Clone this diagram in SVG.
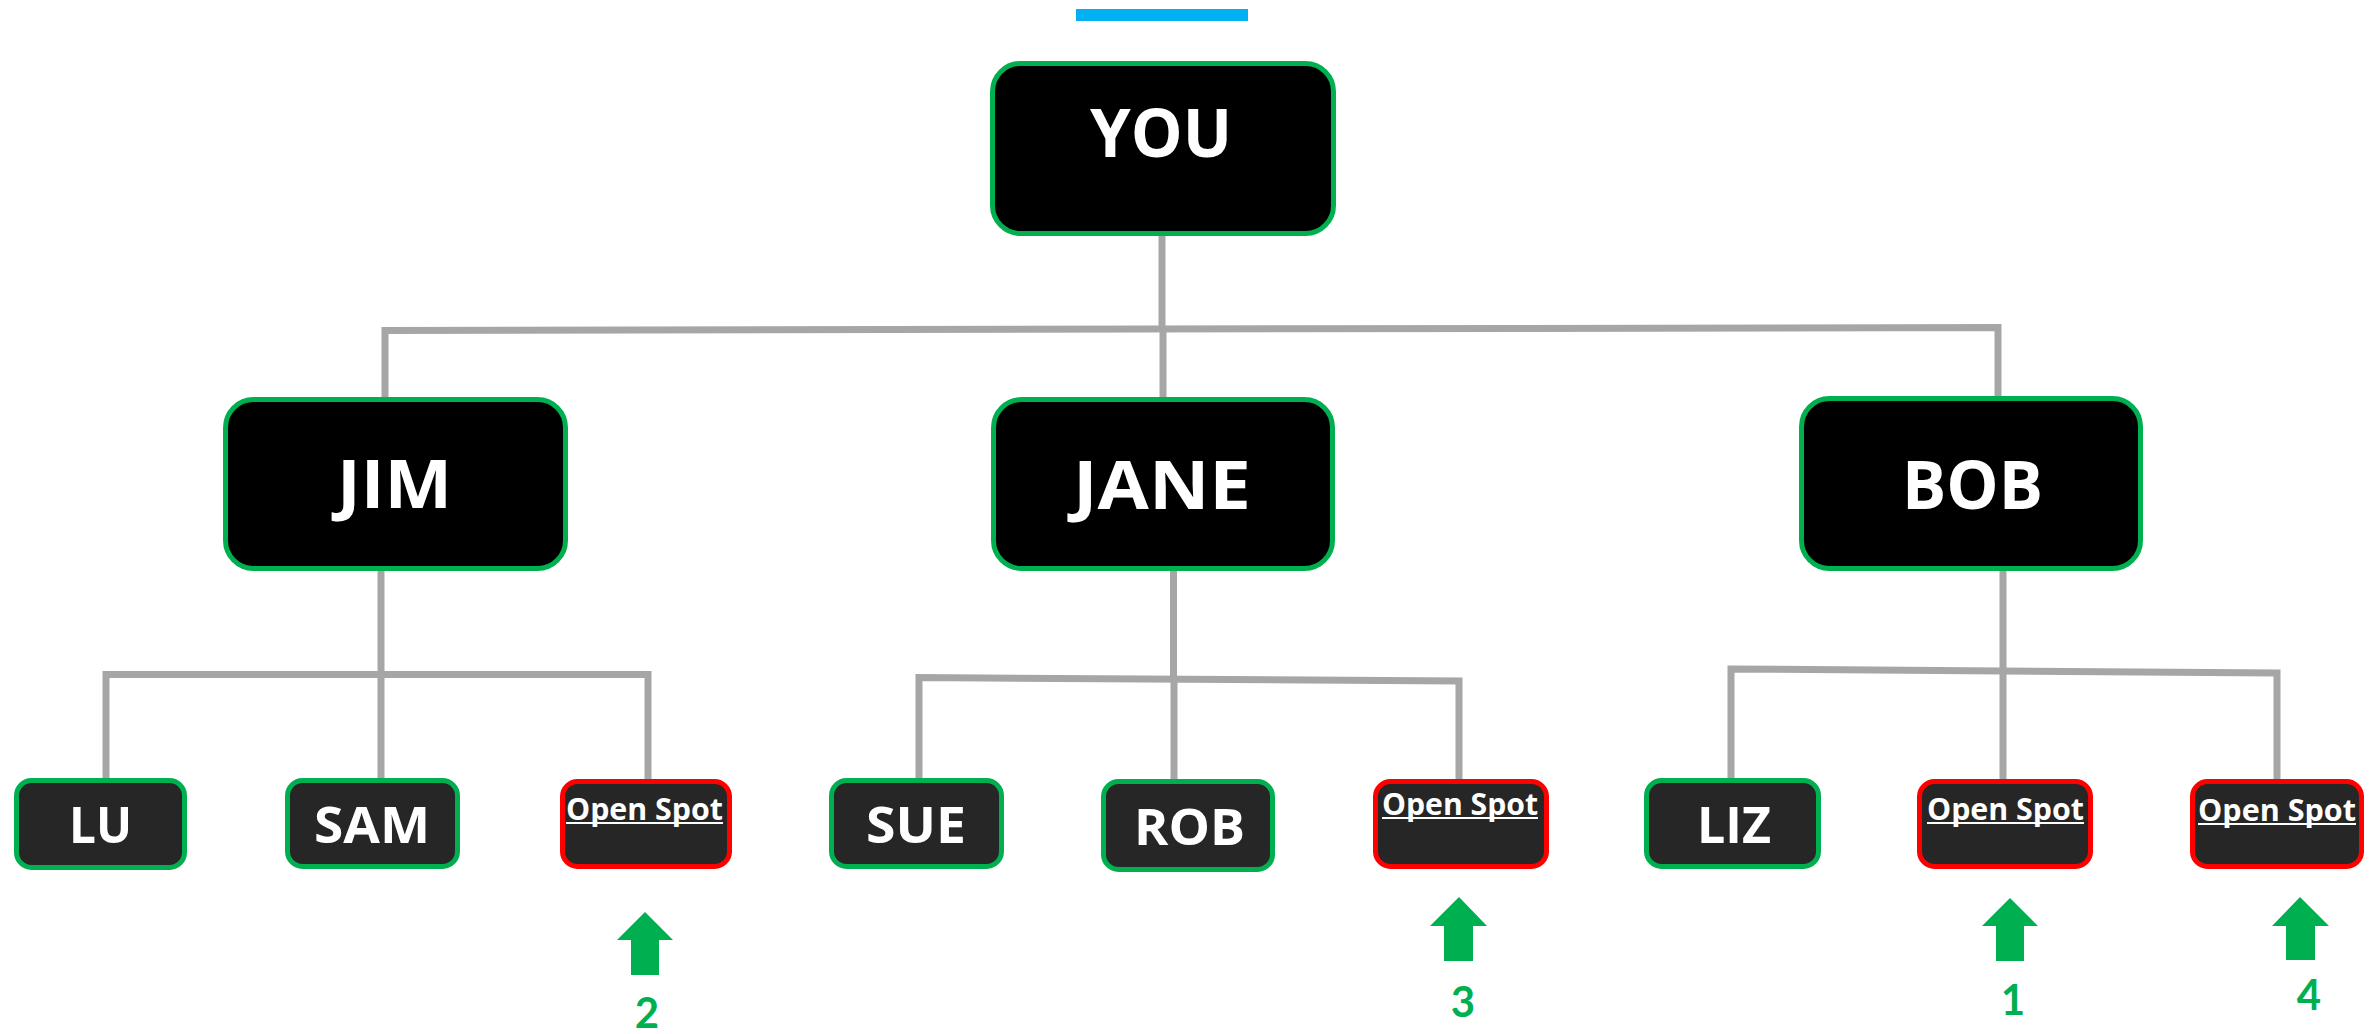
<svg xmlns="http://www.w3.org/2000/svg" width="2380" height="1034" viewBox="0 0 2380 1034">
<style>
.conn{fill:none;stroke:#A6A6A6;stroke-width:7;stroke-linejoin:miter}
.parent{fill:#000000;stroke:#00B050;stroke-width:5}
.leaf{fill:#262626;stroke:#00B050;stroke-width:5}
.open{fill:#262626;stroke:#FF0000;stroke-width:5}
.ptxt{font-family:"Open Sans","Liberation Sans",sans-serif;font-weight:700;font-size:66px;fill:#FFFFFF;text-anchor:middle}
.ltxt{font-family:"Open Sans","Liberation Sans",sans-serif;font-weight:700;font-size:50px;fill:#FFFFFF;text-anchor:middle}
.otxt{font-family:"Open Sans","Liberation Sans",sans-serif;font-weight:700;font-size:30px;fill:#FFFFFF;text-anchor:middle}
.uline{stroke:#FFFFFF;stroke-width:2}
.arrow{fill:#00B050}
.num{font-family:Lato,"Liberation Sans",sans-serif;font-weight:700;font-size:42px;fill:#00B050;text-anchor:middle}
</style>
<rect width="2380" height="1034" fill="#FFFFFF"/>
<rect x="1076" y="9" width="172" height="12" fill="#00B0F0"/>

<g id="connectors">
  <path class="conn" d="M1162 236 V330"/>
  <path class="conn" d="M385 397 V330.5 L1998 327.5 V396"/>
  <path class="conn" d="M1163 330 V397"/>
  <path class="conn" d="M381 571 V674.5"/>
  <path class="conn" d="M106 779 V674.5 H648 V779"/>
  <path class="conn" d="M381 674.5 V779"/>
  <path class="conn" d="M1173.5 571 V679"/>
  <path class="conn" d="M919 779 V677.5 L1459 681 V779"/>
  <path class="conn" d="M1174 679 V779"/>
  <path class="conn" d="M2003 571 V779"/>
  <path class="conn" d="M1731 779 V669 L2277 673 V779"/>
</g>

<g id="node-you">
  <rect class="parent" x="992.5" y="63.5" width="341" height="170" rx="28"/>
  <text class="ptxt" x="1161" y="157" textLength="142" lengthAdjust="spacingAndGlyphs">YOU</text>
</g>
<g id="node-jim">
  <rect class="parent" x="225.5" y="399.5" width="340" height="169" rx="28"/>
  <text class="ptxt" x="394.5" y="508" textLength="115" lengthAdjust="spacingAndGlyphs">JIM</text>
</g>
<g id="node-jane">
  <rect class="parent" x="993.5" y="399.5" width="339" height="169" rx="28"/>
  <text class="ptxt" x="1162" y="509" textLength="178" lengthAdjust="spacingAndGlyphs">JANE</text>
</g>
<g id="node-bob">
  <rect class="parent" x="1801.5" y="398.5" width="339" height="170" rx="28"/>
  <text class="ptxt" x="1972.5" y="509" textLength="141" lengthAdjust="spacingAndGlyphs">BOB</text>
</g>

<g id="node-lu">
  <rect class="leaf" x="16.5" y="780.5" width="168" height="87" rx="15"/>
  <text class="ltxt" x="100.5" y="843" textLength="63" lengthAdjust="spacingAndGlyphs">LU</text>
</g>
<g id="node-sam">
  <rect class="leaf" x="287.5" y="780.5" width="170" height="86" rx="15"/>
  <text class="ltxt" x="372" y="843" textLength="116" lengthAdjust="spacingAndGlyphs">SAM</text>
</g>
<g id="node-open1">
  <rect class="open" x="562.5" y="781.5" width="167" height="85" rx="15"/>
  <text class="otxt" x="644.5" y="820" textLength="157" lengthAdjust="spacingAndGlyphs">Open Spot</text>
  <line class="uline" x1="566" y1="823" x2="723" y2="823"/>
</g>
<g id="node-sue">
  <rect class="leaf" x="831.5" y="780.5" width="170" height="86" rx="15"/>
  <text class="ltxt" x="916" y="843" textLength="100" lengthAdjust="spacingAndGlyphs">SUE</text>
</g>
<g id="node-rob">
  <rect class="leaf" x="1103.5" y="781.5" width="169" height="88" rx="15"/>
  <text class="ltxt" x="1189.5" y="845" textLength="111" lengthAdjust="spacingAndGlyphs">ROB</text>
</g>
<g id="node-open2">
  <rect class="open" x="1375.5" y="781.5" width="171" height="85" rx="15"/>
  <text class="otxt" x="1460" y="815" textLength="156" lengthAdjust="spacingAndGlyphs">Open Spot</text>
  <line class="uline" x1="1382" y1="818" x2="1538" y2="818"/>
</g>
<g id="node-liz">
  <rect class="leaf" x="1646.5" y="780.5" width="172" height="86" rx="15"/>
  <text class="ltxt" x="1734" y="843" textLength="74" lengthAdjust="spacingAndGlyphs">LIZ</text>
</g>
<g id="node-open3">
  <rect class="open" x="1919.5" y="781.5" width="171" height="85" rx="15"/>
  <text class="otxt" x="2005.5" y="820" textLength="157" lengthAdjust="spacingAndGlyphs">Open Spot</text>
  <line class="uline" x1="1927" y1="823" x2="2084" y2="823"/>
</g>
<g id="node-open4">
  <rect class="open" x="2192.5" y="781.5" width="169" height="85" rx="15"/>
  <text class="otxt" x="2277" y="821" textLength="158" lengthAdjust="spacingAndGlyphs">Open Spot</text>
  <line class="uline" x1="2198" y1="824" x2="2356" y2="824"/>
</g>

<g id="marker-2">
  <polygon class="arrow" points="645,912 673,940 659,940 659,975 631,975 631,940 617,940"/>
  <text class="num" x="647" y="1028">2</text>
</g>
<g id="marker-3">
  <polygon class="arrow" points="1459,897 1487,926 1473,926 1473,961 1444,961 1444,926 1430,926"/>
  <text class="num" x="1463" y="1017">3</text>
</g>
<g id="marker-1">
  <polygon class="arrow" points="2010,898 2038,926 2024,926 2024,961 1996,961 1996,926 1982,926"/>
  <text class="num" x="2013" y="1015">1</text>
</g>
<g id="marker-4">
  <polygon class="arrow" points="2300,897 2329,926 2315,926 2315,960 2286,960 2286,926 2272,926"/>
  <text class="num" x="2309" y="1010">4</text>
</g>
</svg>
